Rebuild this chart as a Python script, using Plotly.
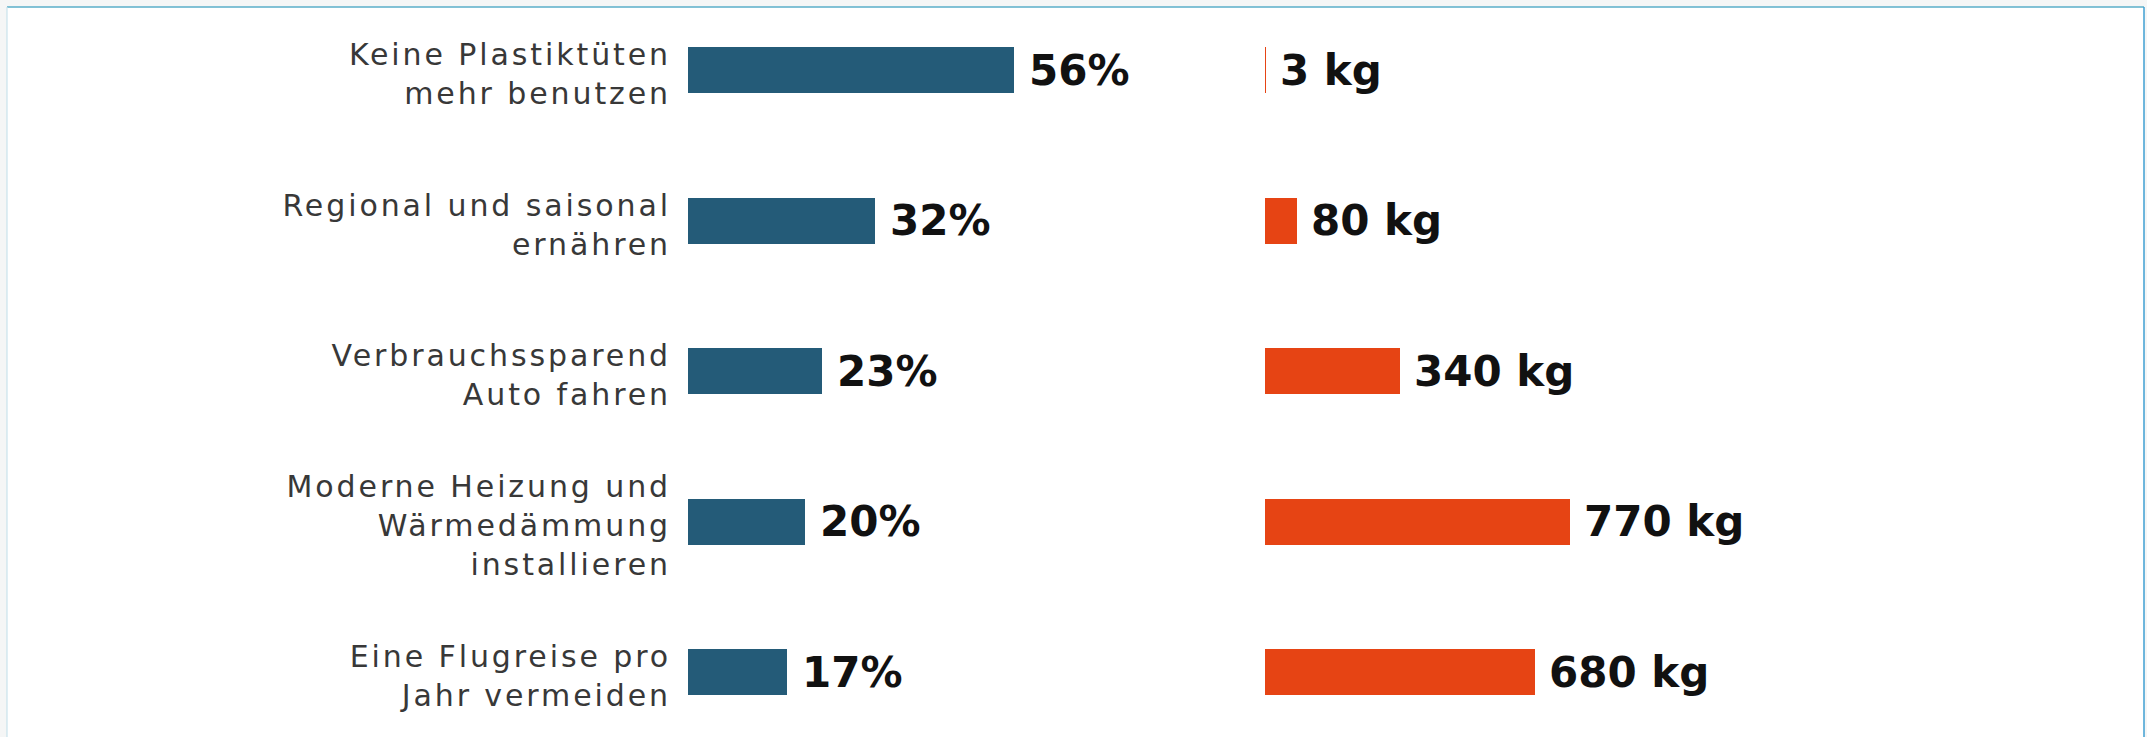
import plotly.graph_objects as go

# ---- data ----
categories = [
    "Keine Plastiktüten<br>mehr benutzen",
    "Regional und saisonal<br>ernähren",
    "Verbrauchssparend<br>Auto fahren",
    "Moderne Heizung und<br>Wärmedämmung<br>installieren",
    "Eine Flugreise pro<br>Jahr vermeiden",
]
share_pct = [56, 32, 23, 20, 17]
co2_kg = [3, 80, 340, 770, 680]
share_labels = ["56%", "32%", "23%", "20%", "17%"]
co2_labels = ["3 kg", "80 kg", "340 kg", "770 kg", "680 kg"]

W, H = 2147, 737
BLUE = "#245b78"
ORANGE = "#e64414"

LS = "letter-spacing:2.9px"


def spaced(t):
    return "<br>".join(f'<span style="{LS}">{p}</span>' for p in t.split("<br>"))


tick_text = [spaced(c) for c in categories]

fig = go.Figure()
fig.add_trace(go.Bar(
    x=share_pct, y=categories, orientation="h", xaxis="x", yaxis="y",
    marker=dict(color=BLUE, line=dict(width=0)), width=0.305, hoverinfo="skip",
))
fig.add_trace(go.Bar(
    x=co2_kg, y=categories, orientation="h", xaxis="x2", yaxis="y",
    marker=dict(color=ORANGE, line=dict(width=0)), width=0.305, hoverinfo="skip",
))

val_font = dict(family="DejaVu Sans", size=42, color="#111111", weight="bold")
annotations = []
for c, v, t in zip(categories, share_pct, share_labels):
    annotations.append(dict(x=v, y=c, xref="x", yref="y", text=t, showarrow=False,
                            xanchor="left", yanchor="middle", xshift=13, font=val_font))
for c, v, t in zip(categories, co2_kg, co2_labels):
    annotations.append(dict(x=v, y=c, xref="x2", yref="y", text=t, showarrow=False,
                            xanchor="left", yanchor="middle", xshift=12, font=val_font))

x1_start, x1_w, x1_scale = 688, 500, 5.83
x2_start, x2_w, x2_scale = 1265, 800, 0.3965
pitch, c0 = 150.6, 70.0

shapes = [
    dict(type="rect", xref="paper", yref="paper", x0=7 / W, x1=2144 / W, y0=-0.02, y1=1 - 7 / H,
         fillcolor="white", line=dict(width=0), layer="below"),
    dict(type="line", xref="paper", yref="paper", x0=7 / W, x1=2144 / W, y0=1 - 7 / H, y1=1 - 7 / H,
         line=dict(color="#5aaec8", width=1.5), layer="below"),
    dict(type="line", xref="paper", yref="paper", x0=2144 / W, x1=2144 / W, y0=-0.02, y1=1 - 7 / H,
         line=dict(color="#3f9fd2", width=1.5), layer="below"),
    dict(type="line", xref="paper", yref="paper", x0=7 / W, x1=7 / W, y0=-0.02, y1=1 - 7 / H,
         line=dict(color="#c9e3ec", width=1.2), layer="below"),
]

fig.update_layout(
    width=W, height=H,
    margin=dict(l=0, r=0, t=0, b=0),
    paper_bgcolor="#f5f6f6",
    plot_bgcolor="rgba(0,0,0,0)",
    showlegend=False,
    bargap=0,
    xaxis=dict(domain=[x1_start / W, (x1_start + x1_w) / W], range=[0, x1_w / x1_scale],
               showgrid=False, zeroline=False, showticklabels=False, showline=False, fixedrange=True),
    xaxis2=dict(domain=[x2_start / W, (x2_start + x2_w) / W], range=[0, x2_w / x2_scale],
                anchor="y", showgrid=False, zeroline=False, showticklabels=False, showline=False,
                fixedrange=True),
    yaxis=dict(type="category", categoryorder="array", categoryarray=categories,
               range=[(H - c0) / pitch, -c0 / pitch], anchor="x",
               tickmode="array", tickvals=categories, ticktext=tick_text,
               showgrid=False, zeroline=False, showline=False, ticks="",
               ticklabelstandoff=16, ticklabelshift=-4,
               tickfont=dict(family="DejaVu Sans", size=30, color="#383838"), fixedrange=True),
    annotations=annotations,
    shapes=shapes,
)

fig.write_html("out.html", config=dict(displayModeBar=False, staticPlot=True))
